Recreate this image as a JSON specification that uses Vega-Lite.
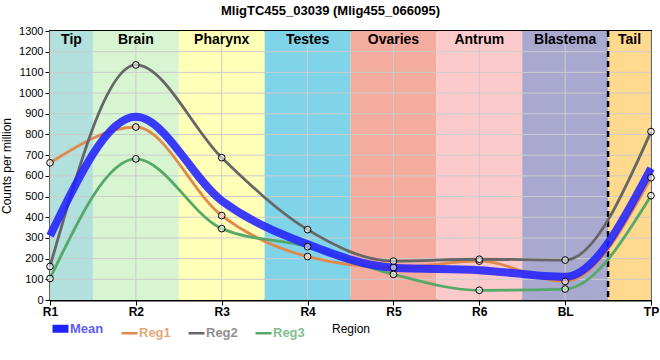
{
  "$schema": "https://vega.github.io/schema/vega-lite/v6.json",
  "width": 601,
  "height": 269,
  "autosize": {"type": "none"},
  "padding": {"left": 50, "top": 31, "right": 9, "bottom": 60},
  "background": "white",
  "title": {"text": "MligTC455_03039 (Mlig455_066095)", "fontSize": 13, "fontWeight": "bold", "font": "Liberation Sans", "color": "#000", "anchor": "middle", "dx": -20, "offset": 7},
  "config": {
    "view": {"stroke": "#000", "strokeWidth": 2},
    "font": "Liberation Sans",
    "axis": {"labelFont": "Liberation Sans", "titleFont": "Liberation Sans", "labelColor": "#000", "titleColor": "#000", "tickColor": "#000", "domainColor": "#000", "domainWidth": 2, "tickSize": 5, "grid": false, "titleFontWeight": "normal", "titleFontSize": 12, "labelFlush": false, "labelOverlap": false}
  },
  "datasets": {
    "bands": [
      {"band": "Tip", "start": 0, "end": 0.5},
      {"band": "Brain", "start": 0.5, "end": 1.5},
      {"band": "Pharynx", "start": 1.5, "end": 2.5},
      {"band": "Testes", "start": 2.5, "end": 3.5},
      {"band": "Ovaries", "start": 3.5, "end": 4.5},
      {"band": "Antrum", "start": 4.5, "end": 5.5},
      {"band": "Blastema", "start": 5.5, "end": 6.5},
      {"band": "Tail", "start": 6.5, "end": 7}
    ],
    "gridy": [{"value": 100}, {"value": 200}, {"value": 300}, {"value": 400}, {"value": 500}, {"value": 600}, {"value": 700}, {"value": 800}, {"value": 900}, {"value": 1000}, {"value": 1100}, {"value": 1200}],
    "expr": [
      {"region": "R1", "idx": 0, "series": "Reg1", "value": 663},
      {"region": "R2", "idx": 1, "series": "Reg1", "value": 836},
      {"region": "R3", "idx": 2, "series": "Reg1", "value": 408},
      {"region": "R4", "idx": 3, "series": "Reg1", "value": 210},
      {"region": "R5", "idx": 4, "series": "Reg1", "value": 157},
      {"region": "R6", "idx": 5, "series": "Reg1", "value": 188},
      {"region": "BL", "idx": 6, "series": "Reg1", "value": 90},
      {"region": "TP", "idx": 7, "series": "Reg1", "value": 591},
      {"region": "R1", "idx": 0, "series": "Reg2", "value": 162},
      {"region": "R2", "idx": 1, "series": "Reg2", "value": 1136},
      {"region": "R3", "idx": 2, "series": "Reg2", "value": 688},
      {"region": "R4", "idx": 3, "series": "Reg2", "value": 340},
      {"region": "R5", "idx": 4, "series": "Reg2", "value": 188},
      {"region": "R6", "idx": 5, "series": "Reg2", "value": 197},
      {"region": "BL", "idx": 6, "series": "Reg2", "value": 193},
      {"region": "TP", "idx": 7, "series": "Reg2", "value": 814},
      {"region": "R1", "idx": 0, "series": "Reg3", "value": 104},
      {"region": "R2", "idx": 1, "series": "Reg3", "value": 682},
      {"region": "R3", "idx": 2, "series": "Reg3", "value": 345},
      {"region": "R4", "idx": 3, "series": "Reg3", "value": 258},
      {"region": "R5", "idx": 4, "series": "Reg3", "value": 124},
      {"region": "R6", "idx": 5, "series": "Reg3", "value": 47},
      {"region": "BL", "idx": 6, "series": "Reg3", "value": 53},
      {"region": "TP", "idx": 7, "series": "Reg3", "value": 504},
      {"region": "R1", "idx": 0, "series": "Mean", "value": 310},
      {"region": "R2", "idx": 1, "series": "Mean", "value": 885},
      {"region": "R3", "idx": 2, "series": "Mean", "value": 480},
      {"region": "R4", "idx": 3, "series": "Mean", "value": 269},
      {"region": "R5", "idx": 4, "series": "Mean", "value": 156},
      {"region": "R6", "idx": 5, "series": "Mean", "value": 144},
      {"region": "BL", "idx": 6, "series": "Mean", "value": 112},
      {"region": "TP", "idx": 7, "series": "Mean", "value": 636}
    ]
  },
  "layer": [
    {
      "data": {"name": "bands"},
      "mark": {"type": "rect"},
      "encoding": {
        "x": {"field": "start", "type": "quantitative", "scale": {"domain": [0, 7], "nice": false, "zero": false},
          "axis": {"values": [0, 1, 2, 3, 4, 5, 6, 7], "tickCount": 20, "labelExpr": "['R1','R2','R3','R4','R5','R6','BL','TP'][datum.value]", "labelFontWeight": "bold", "labelFontSize": 12, "labelPadding": 1, "title": "Region", "titlePadding": 6}},
        "x2": {"field": "end"},
        "fill": {"field": "band", "type": "nominal", "legend": null,
          "scale": {"domain": ["Tip", "Brain", "Pharynx", "Testes", "Ovaries", "Antrum", "Blastema", "Tail"],
            "range": ["#b2e0dc", "#d6f5d0", "#ffffb8", "#80d4ea", "#f4ac9e", "#fdcacb", "#a9a8ce", "#fed98e"]}}
      }
    },
    {
      "data": {"name": "gridy"},
      "mark": {"type": "rule", "color": "#cccccc", "strokeWidth": 1},
      "encoding": {"y": {"field": "value", "type": "quantitative", "scale": {"domain": [0, 1300], "nice": false},
        "axis": {"values": [0, 100, 200, 300, 400, 500, 600, 700, 800, 900, 1000, 1100, 1200, 1300], "tickCount": 20, "format": "d", "labelOverlap": false, "labelFontSize": 11, "labelPadding": 2, "titlePadding": 5, "title": "Counts per million"}}}
    },
    {
      "data": {"name": "expr"},
      "transform": [{"filter": "datum.series === 'Reg1'"}],
      "mark": {"type": "rule", "color": "#cccccc", "strokeWidth": 1},
      "encoding": {"x": {"field": "idx", "type": "quantitative", "title": "Region"}}
    },
    {
      "data": {"name": "bands"},
      "transform": [{"filter": "datum.band === 'Blastema'"}],
      "mark": {"type": "rule", "color": "#000", "strokeWidth": 2.5, "strokeDash": [6, 4]},
      "encoding": {"x": {"field": "end", "type": "quantitative", "title": "Region"}}
    },
    {
      "data": {"name": "bands"},
      "transform": [{"calculate": "(datum.start + datum.end) / 2", "as": "mid"}],
      "mark": {"type": "text", "fontWeight": "bold", "fontSize": 14, "baseline": "top", "dy": 2, "color": "#000", "font": "Liberation Sans"},
      "encoding": {
        "x": {"field": "mid", "type": "quantitative", "title": "Region"},
        "y": {"datum": 1300, "type": "quantitative", "title": "Counts per million"},
        "text": {"field": "band"}
      }
    },
    {
      "data": {"name": "expr"},
      "transform": [{"filter": "datum.series !== 'Mean'"}],
      "mark": {"type": "line", "interpolate": "monotone", "strokeWidth": 2.8},
      "encoding": {
        "x": {"field": "idx", "type": "quantitative", "title": "Region"},
        "y": {"field": "value", "type": "quantitative", "title": "Counts per million"},
        "color": {"field": "series", "type": "nominal",
          "scale": {"domain": ["Mean", "Reg1", "Reg2", "Reg3"], "range": ["#2222ff", "#e0894d", "#666666", "#55a868"]},
          "legend": {"title": null, "orient": "none", "direction": "horizontal", "legendX": 4, "legendY": 291,
            "symbolType": "stroke", "symbolSize": 256, "labelFontSize": 13, "labelFontWeight": "bold", "labelFont": "Liberation Sans", "columnPadding": 12, "labelOffset": 3, "labelOpacity": 0.75,
            "encode": {"symbols": {"update": {"strokeWidth": {"signal": "datum.value === 'Mean' ? 8 : 2.5"}}},
                       "labels": {"update": {"fill": {"scale": "color", "field": "value"}}}}}},
        "detail": {"field": "series"}
      }
    },
    {
      "data": {"name": "expr"},
      "transform": [{"filter": "datum.series === 'Mean'"}],
      "mark": {"type": "line", "interpolate": "monotone", "strokeWidth": 8, "opacity": 0.88},
      "encoding": {
        "x": {"field": "idx", "type": "quantitative", "title": "Region"},
        "y": {"field": "value", "type": "quantitative", "title": "Counts per million"},
        "color": {"field": "series", "type": "nominal"}
      }
    },
    {
      "data": {"name": "expr"},
      "transform": [{"filter": "datum.series !== 'Mean'"}],
      "mark": {"type": "circle", "size": 45, "fill": "#ffffff", "fillOpacity": 0.55, "stroke": "#000", "strokeWidth": 1, "opacity": 1},
      "encoding": {
        "x": {"field": "idx", "type": "quantitative", "title": "Region"},
        "y": {"field": "value", "type": "quantitative", "title": "Counts per million"}
      }
    }
  ]
}
